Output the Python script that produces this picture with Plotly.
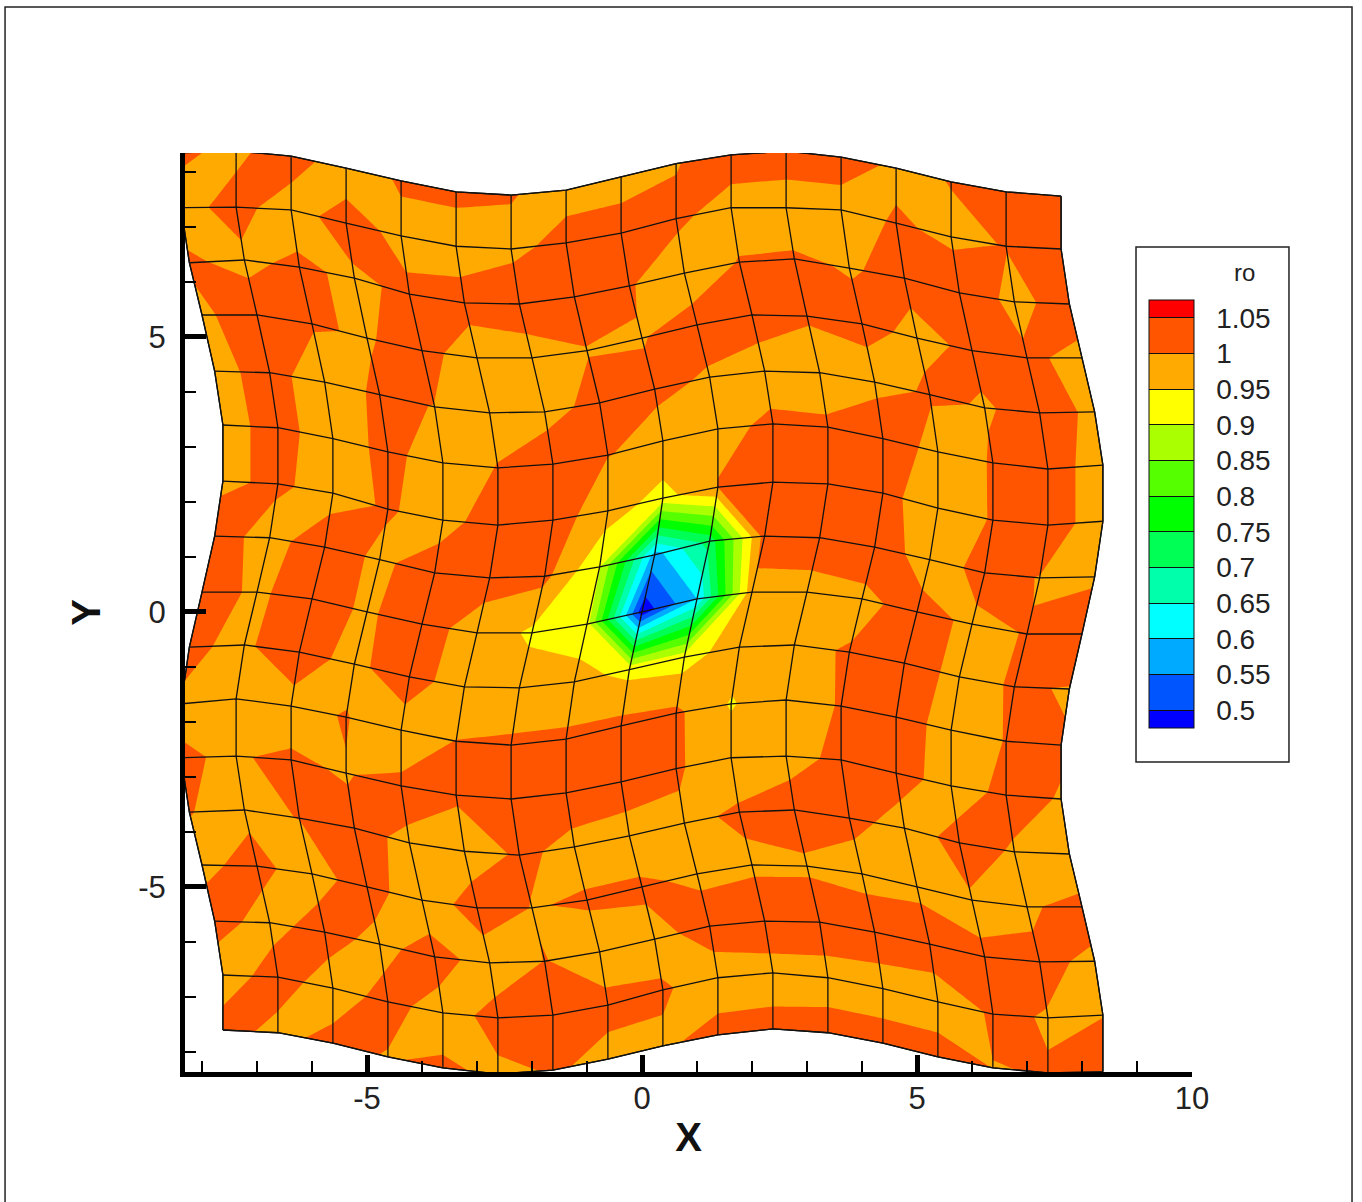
import plotly.graph_objects as go

col_index = list(range(17))
row_index = list(range(17))

mesh_x = [
 [-8.38,-7.38,-6.38,-5.38,-4.38,-3.38,-2.38,-1.38,-0.38,0.62,1.62,2.62,3.62,4.62,5.62,6.62,7.62],
 [-8.38,-7.38,-6.38,-5.38,-4.38,-3.38,-2.38,-1.38,-0.38,0.62,1.62,2.62,3.62,4.62,5.62,6.62,7.62],
 [-8.23,-7.23,-6.23,-5.23,-4.23,-3.23,-2.23,-1.23,-0.23,0.77,1.77,2.77,3.77,4.77,5.77,6.77,7.77],
 [-8,-7,-6,-5,-4,-3,-2,-1,0,1,2,3,4,5,6,7,8],
 [-7.77,-6.77,-5.77,-4.77,-3.77,-2.77,-1.77,-0.77,0.23,1.23,2.23,3.23,4.23,5.23,6.23,7.23,8.23],
 [-7.62,-6.62,-5.62,-4.62,-3.62,-2.62,-1.62,-0.62,0.38,1.38,2.38,3.38,4.38,5.38,6.38,7.38,8.38],
 [-7.62,-6.62,-5.62,-4.62,-3.62,-2.62,-1.62,-0.62,0.38,1.38,2.38,3.38,4.38,5.38,6.38,7.38,8.38],
 [-7.77,-6.77,-5.77,-4.77,-3.77,-2.77,-1.77,-0.77,0.23,1.23,2.23,3.23,4.23,5.23,6.23,7.23,8.23],
 [-8,-7,-6,-5,-4,-3,-2,-1,0,1,2,3,4,5,6,7,8],
 [-8.23,-7.23,-6.23,-5.23,-4.23,-3.23,-2.23,-1.23,-0.23,0.77,1.77,2.77,3.77,4.77,5.77,6.77,7.77],
 [-8.38,-7.38,-6.38,-5.38,-4.38,-3.38,-2.38,-1.38,-0.38,0.62,1.62,2.62,3.62,4.62,5.62,6.62,7.62],
 [-8.38,-7.38,-6.38,-5.38,-4.38,-3.38,-2.38,-1.38,-0.38,0.62,1.62,2.62,3.62,4.62,5.62,6.62,7.62],
 [-8.23,-7.23,-6.23,-5.23,-4.23,-3.23,-2.23,-1.23,-0.23,0.77,1.77,2.77,3.77,4.77,5.77,6.77,7.77],
 [-8,-7,-6,-5,-4,-3,-2,-1,0,1,2,3,4,5,6,7,8],
 [-7.77,-6.77,-5.77,-4.77,-3.77,-2.77,-1.77,-0.77,0.23,1.23,2.23,3.23,4.23,5.23,6.23,7.23,8.23],
 [-7.62,-6.62,-5.62,-4.62,-3.62,-2.62,-1.62,-0.62,0.38,1.38,2.38,3.38,4.38,5.38,6.38,7.38,8.38],
 [-7.62,-6.62,-5.62,-4.62,-3.62,-2.62,-1.62,-0.62,0.38,1.38,2.38,3.38,4.38,5.38,6.38,7.38,8.38],
]

mesh_y = [
 [8.35,8.38,8.29,8.07,7.84,7.64,7.58,7.67,7.91,8.15,8.31,8.38,8.27,8.07,7.82,7.64,7.56],
 [7.35,7.36,7.31,7.07,6.84,6.65,6.60,6.71,6.89,7.15,7.35,7.35,7.31,7.07,6.82,6.65,6.60],
 [6.35,6.40,6.27,6.07,5.78,5.62,5.60,5.73,5.93,6.16,6.36,6.42,6.25,6.07,5.80,5.64,5.60],
 [5.40,5.40,5.24,4.98,4.75,4.62,4.62,4.75,4.98,5.22,5.40,5.38,5.24,4.98,4.75,4.62,4.62],
 [4.38,4.35,4.18,3.95,3.73,3.62,3.64,3.80,4.05,4.27,4.38,4.35,4.18,3.95,3.71,3.62,3.64],
 [3.40,3.35,3.15,2.91,2.71,2.62,2.69,2.85,3.11,3.33,3.42,3.36,3.15,2.91,2.71,2.60,2.67],
 [2.38,2.33,2.16,1.87,1.67,1.58,1.67,1.84,2.07,2.27,2.36,2.33,2.16,1.89,1.67,1.58,1.65],
 [1.38,1.35,1.18,0.95,0.71,0.62,0.65,0.82,1.04,1.29,1.38,1.35,1.18,0.95,0.71,0.62,0.64],
 [0.36,0.36,0.24,0,-0.22,-0.38,-0.38,-0.22,0,0.24,0.36,0.36,0.24,0,-0.22,-0.40,-0.40],
 [-0.64,-0.60,-0.73,-0.95,-1.18,-1.36,-1.38,-1.27,-1.05,-0.82,-0.64,-0.60,-0.73,-0.93,-1.18,-1.36,-1.40],
 [-1.67,-1.58,-1.71,-1.91,-2.15,-2.35,-2.42,-2.31,-2.07,-1.84,-1.67,-1.60,-1.71,-1.91,-2.15,-2.35,-2.42],
 [-2.65,-2.62,-2.69,-2.93,-3.16,-3.33,-3.40,-3.29,-3.09,-2.85,-2.65,-2.62,-2.69,-2.93,-3.16,-3.33,-3.40],
 [-3.64,-3.60,-3.75,-3.93,-4.20,-4.35,-4.42,-4.27,-4.07,-3.84,-3.64,-3.60,-3.75,-3.93,-4.20,-4.36,-4.40],
 [-4.60,-4.62,-4.76,-5.00,-5.24,-5.38,-5.38,-5.24,-5.00,-4.76,-4.60,-4.62,-4.76,-5.00,-5.24,-5.36,-5.36],
 [-5.62,-5.65,-5.82,-6.04,-6.27,-6.38,-6.35,-6.18,-5.95,-5.71,-5.62,-5.64,-5.82,-6.04,-6.27,-6.36,-6.35],
 [-6.60,-6.64,-6.84,-7.09,-7.29,-7.38,-7.33,-7.15,-6.87,-6.65,-6.56,-6.65,-6.85,-7.09,-7.31,-7.38,-7.33],
 [-7.60,-7.65,-7.84,-8.09,-8.29,-8.40,-8.33,-8.13,-7.89,-7.69,-7.58,-7.65,-7.84,-8.09,-8.29,-8.38,-8.36],
]

ro = [
 [1.002,0.997,1.008,0.990,1.002,1.005,1.001,0.994,0.992,0.999,1.010,1.010,1.010,0.996,1.0005,1.008,1.010],
 [0.995,1.005,0.992,1.008,0.995,0.988,0.995,1.006,1.009,1.004,0.992,0.990,0.991,1.002,0.997,1.0005,1.010],
 [1.0015,0.997,1.003,0.997,1.003,1.010,1.015,1.012,1.0015,0.988,1.001,1.002,0.999,1.003,1.010,0.996,1.006],
 [0.998,1.006,1.002,0.998,1.010,0.985,0.988,0.999,0.999,1.008,1.010,1.002,1.004,0.997,1.002,1.002,0.997],
 [0.993,1.008,0.988,1.004,0.9995,0.990,0.992,1.007,1.004,0.998,0.990,0.990,0.994,1.002,0.9992,1.003,0.9987],
 [0.990,1.010,0.985,1.008,0.985,1.001,1.015,1.001,0.992,0.994,1.004,1.003,1.015,0.992,1.001,1.010,0.990],
 [0.997,1.003,0.993,1.002,0.992,1.012,1.020,0.975,0.930,1.001,1.012,1.015,1.005,0.991,1.001,1.010,0.990],
 [1.008,0.993,1.011,0.996,1.010,1.010,1.015,0.905,0.580,0.720,1.020,1.015,1.010,0.992,1.005,0.9995,0.995],
 [1.008,0.997,1.009,0.997,1.012,0.988,0.940,0.920,0.470,0.600,0.985,0.990,0.996,1.006,0.997,1.0005,1.020],
 [1.0015,0.998,1.008,0.994,1.015,0.982,0.980,0.970,0.935,0.925,0.980,0.997,1.001,1.015,0.992,1.002,0.999],
 [0.999,0.9995,0.995,1.001,0.986,1.0005,1.005,1.008,1.015,1.010,0.945,0.992,1.001,1.010,0.992,1.0005,1.001],
 [1.0005,0.9994,1.0014,0.9992,1.0045,1.003,1.002,1.008,1.010,1.004,0.980,0.992,1.005,1.006,0.994,1.003,0.9995],
 [1.0003,0.997,1.0003,1.003,0.998,0.988,1.003,0.996,0.992,0.994,1.004,1.010,1.005,0.994,1.004,0.9992,0.970],
 [0.997,1.0045,0.992,1.009,0.987,1.010,0.9995,1.001,1.002,0.9976,0.996,0.997,0.992,0.994,0.999,0.996,1.010],
 [1.006,0.994,1.008,0.994,1.009,0.990,1.0003,0.996,0.996,1.005,1.015,1.012,1.015,1.015,1.0005,1.005,0.996],
 [0.991,1.008,0.991,1.006,0.992,1.006,1.001,1.002,1.0012,0.995,0.991,0.992,0.988,0.985,1.003,0.999,0.9995],
 [1.007,0.995,1.005,0.999,1.0025,0.997,1.001,0.998,0.9985,1.003,1.006,1.007,1.010,1.012,0.9995,1.0007,1.010],
]

level_start = 0.5
level_end = 1.05
level_size = 0.05
band_colors = ["#0000ff","#0055ff","#00aaff","#00ffff","#00ffaa","#00ff55","#00ff00",
               "#55ff00","#aaff00","#ffff00","#ffaa00","#ff5500","#ff0000"]
colorscale = [[i/(len(band_colors)-1), c] for i, c in enumerate(band_colors)]

FONT = "Liberation Sans, Arial, sans-serif"

fig = go.Figure()
grid_axis = dict(tickmode="linear", tick0=0, dtick=1, smoothing=0, showticklabels="none",
                 gridcolor="#111111", gridwidth=1.3, minorgridcount=0,
                 startline=True, endline=True, startlinecolor="#111111", endlinecolor="#111111",
                 startlinewidth=1.3, endlinewidth=1.3, title=dict(text=""))
fig.add_trace(go.Carpet(carpet="mesh", a=col_index, b=row_index, x=mesh_x, y=mesh_y,
                        aaxis=grid_axis, baxis=grid_axis))
fig.add_trace(go.Contourcarpet(
    carpet="mesh", a=col_index, b=row_index, z=ro,
    autocontour=False,
    contours=dict(start=level_start, end=level_end, size=level_size, coloring="fill", showlines=False),
    line=dict(width=0, smoothing=0),
    colorscale=colorscale, autocolorscale=False,
    colorbar=dict(
        x=0.9573, xanchor="left", xpad=0, y=0.84, yanchor="top", ypad=0,
        lenmode="pixels", len=428, thicknessmode="pixels", thickness=45,
        tickmode="linear", tick0=0.5, dtick=0.05, tickformat=".3~g",
        tickprefix="\u00a0\u00a0", ticks="inside", ticklen=45, tickcolor="#111111", tickwidth=1.3,
        outlinecolor="#111111", outlinewidth=1, borderwidth=0,
        tickfont=dict(family=FONT, size=28, color="#222222"),
    ),
))

fig.update_layout(
    width=1362, height=1202, paper_bgcolor="white", plot_bgcolor="white",
    margin=dict(l=185, r=170, t=153, b=130, autoexpand=False, pad=0),
    showlegend=False,
    font=dict(family=FONT, color="#111111"),
    xaxis=dict(range=[-8.309, 10], showgrid=False, zeroline=False, showline=True, linecolor="black",
               linewidth=5, ticks="inside", ticklen=17, tickwidth=5, tickcolor="black",
               tickmode="array", tickvals=[-5, 0, 5, 10], ticktext=["-5", "0", "5", "10"],
               minor=dict(tickmode="linear", dtick=1, tick0=0, ticks="inside", ticklen=11, tickwidth=1.5, tickcolor="black"),
               tickfont=dict(size=31, family=FONT, color="#222222"), ticklabelstandoff=-5,
               title=dict(text="<b>X</b>", font=dict(size=40, family=FONT, color="#111111"), standoff=9)),
    yaxis=dict(range=[-8.364, 8.345], showgrid=False, zeroline=False, showline=True, linecolor="black",
               linewidth=5, ticks="inside", ticklen=21, tickwidth=5, tickcolor="black",
               tickmode="array", tickvals=[-5, 0, 5], ticktext=["-5", "0", "5"],
               minor=dict(tickmode="linear", dtick=1, tick0=0, ticks="inside", ticklen=11, tickwidth=1.5, tickcolor="black"),
               tickfont=dict(size=31, family=FONT, color="#222222"), ticklabelstandoff=8,
               title=dict(text="<b>Y</b>", font=dict(size=40, family=FONT, color="#111111"), standoff=27)),
    shapes=[
        dict(type="rect", xref="paper", yref="paper", x0=-0.1787, x1=1.1589, y0=-0.1556, y1=1.1589,
             line=dict(color="#222222", width=1.5), fillcolor="rgba(0,0,0,0)", layer="below"),
        dict(type="rect", xref="paper", yref="paper", x0=0.9444, x1=1.0963, y0=0.3373, y1=0.8977,
             line=dict(color="#222222", width=1.5), fillcolor="white", layer="below"),
    ],
    annotations=[
        dict(text="ro", xref="paper", yref="paper", x=1.0526, y=0.8705, showarrow=False,
             font=dict(size=24, family=FONT, color="#222222"), xanchor="center", yanchor="middle"),
    ],
)

fig.write_html("out.html", config=dict(displayModeBar=False),
               post_script="document.body.style.margin='0';document.body.style.overflow='hidden';")
